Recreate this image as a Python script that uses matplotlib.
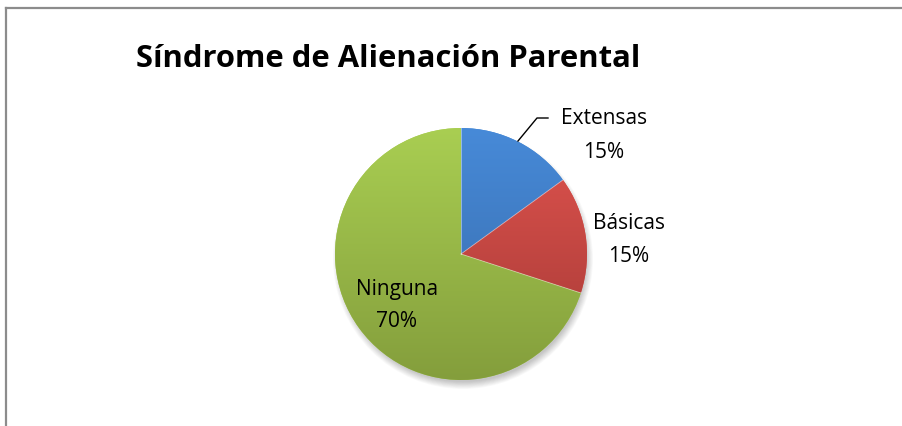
import numpy as np
import matplotlib
matplotlib.use("Agg")
import matplotlib.pyplot as plt
from matplotlib.colors import to_rgb
from matplotlib.lines import Line2D

# ---- data ----
title = "Síndrome de Alienación Parental"
categories = ["Extensas", "Básicas", "Ninguna"]
values = [15, 15, 70]
colors_top = ["#478AD8", "#E0544F", "#A9CE52"]
colors_bottom = ["#3669A8", "#A33834", "#849E3C"]

W, H = 903, 427
fig = plt.figure(figsize=(W / 100, H / 100), dpi=100)
ax = fig.add_axes([0, 0, 1, 1])
ax.set_xlim(0, W)
ax.set_ylim(0, H)
ax.set_aspect("equal")
ax.axis("off")

cx, cy, r = 461, 172, 126

# soft shadow
for k in range(10):
    sh = plt.Circle((cx + 2, cy - 5), r + 4 - k * 0.8, color="#000000", alpha=0.025, lw=0, zorder=1)
    ax.add_patch(sh)

wedges, _ = ax.pie(values, startangle=90, counterclock=False, center=(cx, cy), radius=r,
                   colors=colors_top, wedgeprops=dict(linewidth=0), frame=False)
ax.set_xlim(0, W)
ax.set_ylim(0, H)
ax.axis("off")

# gradient fill per wedge
ny = 200
for w, ct, cb in zip(wedges, colors_top, colors_bottom):
    t = np.linspace(0, 1, ny)[:, None]
    c1, c2 = np.array(to_rgb(ct)), np.array(to_rgb(cb))
    img = (c1[None, None, :] * (1 - t[..., None]) + c2[None, None, :] * t[..., None])
    img = np.repeat(img, 2, axis=1)
    im = ax.imshow(img, extent=(cx - r, cx + r, cy - r, cy + r), origin="upper",
                   aspect="auto", zorder=3, interpolation="bilinear")
    im.set_clip_path(w)
    w.set_zorder(2)

ax.set_xlim(0, W)
ax.set_ylim(0, H)

# subtle separators
for w in wedges:
    th = np.deg2rad(w.theta1)
    ax.plot([cx, cx + r * np.cos(th)], [cy, cy + r * np.sin(th)], color="white", lw=0.6, alpha=0.5, zorder=4)

# labels
font = "Open Sans"
label_pos = [(604, 303, 269), (629, 198, 165), (397, 132, 100)]
for cat, v, (x, y1, y2) in zip(categories, values, label_pos):
    ax.text(x, y1, cat, ha="center", va="baseline", fontsize=15, family=font, color="#000000", zorder=6)
    ax.text(x, y2, f"{v}%", ha="center", va="baseline", fontsize=15, family=font, color="#000000", zorder=6)

# leader line for Extensas
ax.add_line(Line2D([518, 537, 548], [285, 308, 308], color="black", lw=1.0, zorder=6))

# title
ax.text(136, 360, title, ha="left", va="baseline", fontsize=22.3, fontweight="bold", family=font, color="#000000")

# frame (top and left edges)
fig.add_artist(Line2D([6.5 / W, 1], [1 - 8.5 / H, 1 - 8.5 / H], transform=fig.transFigure, color="#8C8C8C", lw=1.6))
fig.add_artist(Line2D([6.5 / W, 6.5 / W], [0, 1 - 8.5 / H], transform=fig.transFigure, color="#8C8C8C", lw=1.6))

fig.savefig("out.png", dpi=100, facecolor="white")
